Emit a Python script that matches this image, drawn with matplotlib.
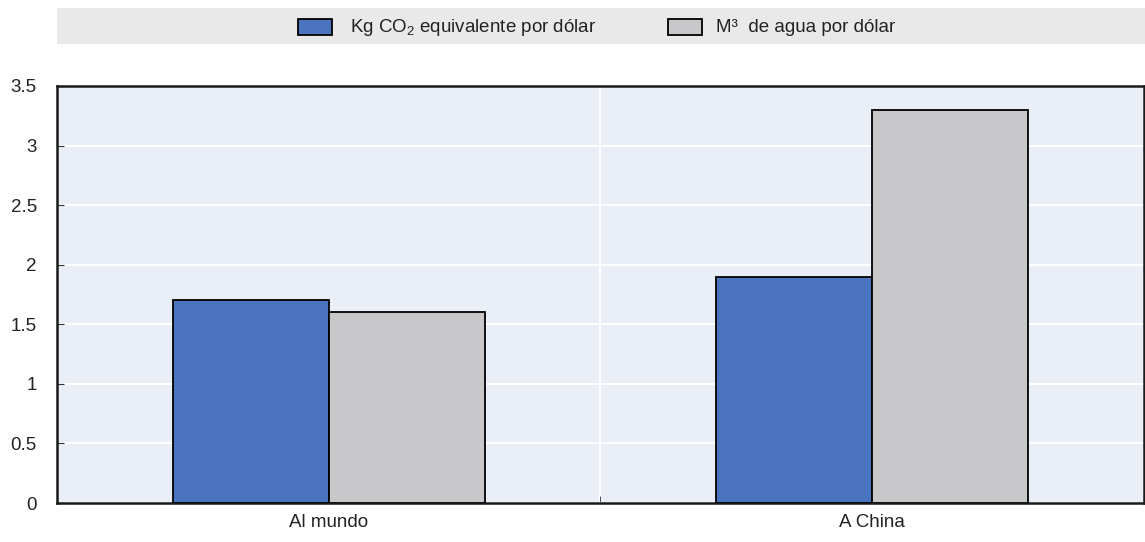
import matplotlib
matplotlib.use("Agg")
import matplotlib.pyplot as plt
from matplotlib.patches import Rectangle

categories = ["Al mundo", "A China"]
co2_values = [1.7, 1.9]
water_values = [1.6, 3.3]
series_labels = ["Kg CO$_2$ equivalente por dólar", "M³  de agua por dólar"]
yticks = [0, 0.5, 1, 1.5, 2, 2.5, 3, 3.5]
ytick_labels = ["0", "0.5", "1", "1.5", "2", "2.5", "3", "3.5"]

fam = "Liberation Sans"
plt.rcParams['font.family'] = [fam, 'DejaVu Sans']
plt.rcParams['mathtext.fontset'] = 'custom'
plt.rcParams['mathtext.rm'] = fam

blue = "#4a74c0"
gray = "#c8c8ca"
bg = "#eaeef7"
txt = "#222222"

fig = plt.figure(figsize=(11.45, 5.42), dpi=100)
ax = fig.add_axes([57/1145, 39/542, (1143.5 - 57)/1145, (503-86)/542])
ax.set_facecolor(bg)

w = 0.287
x = list(range(len(categories)))
ax.bar([i - w/2 for i in x], co2_values, width=w, color=blue, edgecolor="black", linewidth=1.3, zorder=3)
ax.bar([i + w/2 for i in x], water_values, width=w, color=gray, edgecolor="black", linewidth=1.3, zorder=3)

ax.set_xlim(-0.5, 1.5)
ax.set_ylim(0, 3.5)
ax.set_yticks(yticks)
ax.set_yticklabels(ytick_labels, fontsize=13.5, color=txt)
ax.set_xticks(x)
ax.set_xticklabels(categories, fontsize=13.5, color=txt)
ax.tick_params(axis="x", length=0, pad=8)
ax.set_xticks([0.5], minor=True)
ax.tick_params(axis="x", which="minor", direction="in", length=5, color="#333333")
ax.tick_params(axis="y", direction="in", length=5, pad=14.5, color="#333333")
ax.grid(axis="y", color="white", linewidth=1.5, zorder=1)
ax.grid(axis="x", which="minor", color="white", linewidth=1.5, zorder=1)
for s in ax.spines.values():
    s.set_color("#1a1a1a")
    s.set_linewidth(1.8)

# legend band
band = fig.add_axes([57/1145, (542-44)/542, 1 - 57/1145, 36/542])
band.set_xlim(57, 1145)
band.set_ylim(44, 8)
band.axis("off")
band.add_patch(Rectangle((57, 8), 1088, 36, color="#e9e9e9", zorder=0))
band.add_patch(Rectangle((298, 19), 34, 16, facecolor=blue, edgecolor="black", linewidth=1.3))
band.text(350, 27, series_labels[0], fontsize=13.5, va="center", ha="left", color=txt)
band.add_patch(Rectangle((668, 19), 34, 16, facecolor=gray, edgecolor="black", linewidth=1.3))
band.text(716, 27, series_labels[1], fontsize=13.5, va="center", ha="left", color=txt)

fig.savefig("out.png", dpi=100)
